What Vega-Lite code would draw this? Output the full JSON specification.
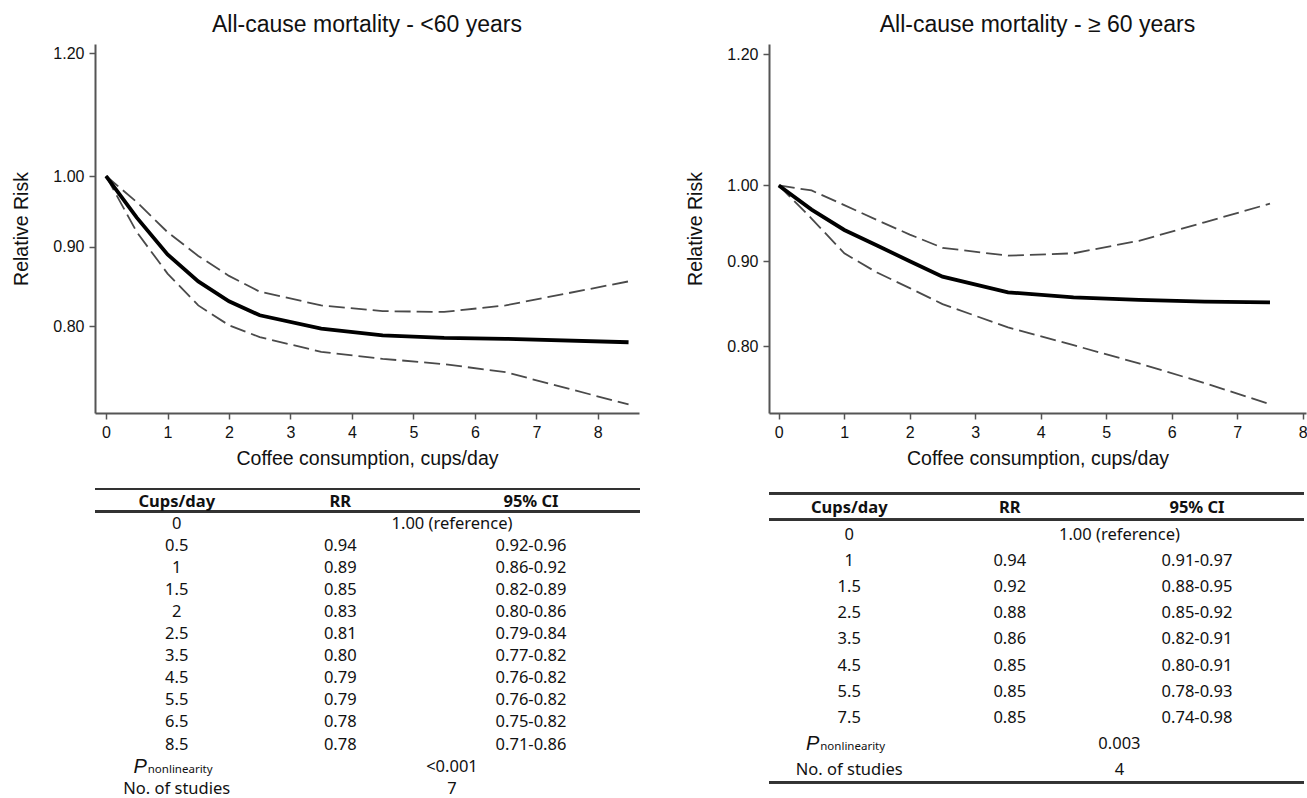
{
  "$schema": "https://vega.github.io/schema/vega-lite/v6.json",
  "background": "white",
  "padding": {"left": 11, "top": 14, "right": 0, "bottom": 0},
  "spacing": 44,
  "config": {
    "view": {"stroke": null},
    "font": "Liberation Sans",
    "axis": {
      "domainColor": "#555", "domainWidth": 2, "tickColor": "#555", "tickWidth": 1.5, "tickSize": 6,
      "labelColor": "#111", "labelFontSize": 16, "labelFont": "Liberation Sans",
      "titleFontSize": 19.5, "titleFontWeight": "normal", "titleColor": "#111", "titleFont": "Liberation Sans",
      "grid": false, "labelPadding": 5
    },
    "title": {"fontSize": 23, "fontWeight": "normal", "color": "#111", "font": "Liberation Sans", "offset": 7, "frame": "group"},
    "text": {"font": "Noto Sans", "fontSize": 16.5, "color": "#111", "baseline": "middle"}
  },
  "datasets": {
    "lt60": [
      {"cups": 0, "rr": 1.0, "lo": 1.0, "hi": 1.0},
      {"cups": 0.5, "rr": 0.94, "lo": 0.92, "hi": 0.962},
      {"cups": 1, "rr": 0.89, "lo": 0.865, "hi": 0.92},
      {"cups": 1.5, "rr": 0.855, "lo": 0.825, "hi": 0.888},
      {"cups": 2, "rr": 0.83, "lo": 0.801, "hi": 0.862},
      {"cups": 2.5, "rr": 0.813, "lo": 0.787, "hi": 0.842},
      {"cups": 3.5, "rr": 0.797, "lo": 0.77, "hi": 0.825},
      {"cups": 4.5, "rr": 0.789, "lo": 0.762, "hi": 0.818},
      {"cups": 5.5, "rr": 0.786, "lo": 0.756, "hi": 0.817},
      {"cups": 6.5, "rr": 0.785, "lo": 0.747, "hi": 0.825},
      {"cups": 8.5, "rr": 0.781, "lo": 0.712, "hi": 0.855}
    ],
    "ge60": [
      {"cups": 0, "rr": 1.0, "lo": 1.0, "hi": 1.0},
      {"cups": 0.5, "rr": 0.967, "lo": 0.955, "hi": 0.993},
      {"cups": 1, "rr": 0.94, "lo": 0.91, "hi": 0.973},
      {"cups": 1.5, "rr": 0.92, "lo": 0.886, "hi": 0.953},
      {"cups": 2, "rr": 0.9, "lo": 0.867, "hi": 0.934},
      {"cups": 2.5, "rr": 0.881, "lo": 0.848, "hi": 0.917},
      {"cups": 3.5, "rr": 0.862, "lo": 0.821, "hi": 0.907},
      {"cups": 4.5, "rr": 0.856, "lo": 0.801, "hi": 0.91},
      {"cups": 5.5, "rr": 0.853, "lo": 0.781, "hi": 0.926},
      {"cups": 6.5, "rr": 0.851, "lo": 0.76, "hi": 0.95},
      {"cups": 7.5, "rr": 0.85, "lo": 0.738, "hi": 0.975}
    ],
    "tabL": [
      {"row": 0, "cups": "Cups/day", "rr": "RR", "ci": "95% CI"},
      {"row": 1, "cups": "0", "note": "1.00 (reference)"},
      {"row": 2, "cups": "0.5", "rr": "0.94", "ci": "0.92-0.96"},
      {"row": 3, "cups": "1", "rr": "0.89", "ci": "0.86-0.92"},
      {"row": 4, "cups": "1.5", "rr": "0.85", "ci": "0.82-0.89"},
      {"row": 5, "cups": "2", "rr": "0.83", "ci": "0.80-0.86"},
      {"row": 6, "cups": "2.5", "rr": "0.81", "ci": "0.79-0.84"},
      {"row": 7, "cups": "3.5", "rr": "0.80", "ci": "0.77-0.82"},
      {"row": 8, "cups": "4.5", "rr": "0.79", "ci": "0.76-0.82"},
      {"row": 9, "cups": "5.5", "rr": "0.79", "ci": "0.76-0.82"},
      {"row": 10, "cups": "6.5", "rr": "0.78", "ci": "0.75-0.82"},
      {"row": 11, "cups": "8.5", "rr": "0.78", "ci": "0.71-0.86"},
      {"row": 12, "cups": "P", "sub": "nonlinearity", "note": "<0.001"},
      {"row": 13, "cups": "No. of studies", "note": "7"}
    ],
    "tabR": [
      {"row": 0, "cups": "Cups/day", "rr": "RR", "ci": "95% CI"},
      {"row": 1, "cups": "0", "note": "1.00 (reference)"},
      {"row": 2, "cups": "1", "rr": "0.94", "ci": "0.91-0.97"},
      {"row": 3, "cups": "1.5", "rr": "0.92", "ci": "0.88-0.95"},
      {"row": 4, "cups": "2.5", "rr": "0.88", "ci": "0.85-0.92"},
      {"row": 5, "cups": "3.5", "rr": "0.86", "ci": "0.82-0.91"},
      {"row": 6, "cups": "4.5", "rr": "0.85", "ci": "0.80-0.91"},
      {"row": 7, "cups": "5.5", "rr": "0.85", "ci": "0.78-0.93"},
      {"row": 8, "cups": "7.5", "rr": "0.85", "ci": "0.74-0.98"},
      {"row": 9, "cups": "P", "sub": "nonlinearity", "note": "0.003"},
      {"row": 10, "cups": "No. of studies", "note": "4"}
    ]
  },
  "hconcat": [
    {
      "spacing": 11,
      "vconcat": [
        {
          "title": "All-cause mortality - <60 years",
          "width": 544, "height": 369,
          "data": {"name": "lt60"},
          "encoding": {
            "x": {"field": "cups", "type": "quantitative",
                  "scale": {"domain": [-0.18, 8.67], "nice": false, "zero": false},
                  "axis": {"values": [0, 1, 2, 3, 4, 5, 6, 7, 8], "format": "d", "title": "Coffee consumption, cups/day", "titlePadding": 9}}
          },
          "layer": [
            {"mark": {"type": "line", "stroke": "#4a4a4a", "strokeWidth": 1.8, "strokeDash": [16, 6]},
             "encoding": {"y": {"field": "hi", "type": "quantitative", "scale": {"type": "log", "domain": [0.703, 1.217], "nice": false, "zero": false},
               "axis": {"values": [0.8, 0.9, 1.0, 1.2], "format": ".2f", "title": "Relative Risk", "titlePadding": 21}}}},
            {"mark": {"type": "line", "stroke": "#4a4a4a", "strokeWidth": 1.8, "strokeDash": [16, 6]},
             "encoding": {"y": {"field": "lo", "type": "quantitative", "title": "Relative Risk"}}},
            {"mark": {"type": "line", "stroke": "#000", "strokeWidth": 3.8},
             "encoding": {"y": {"field": "rr", "type": "quantitative", "title": "Relative Risk"}}}
          ]
        },
        {
          "width": 545, "height": 318,
          "data": {"name": "tabL"},
          "encoding": {
            "y": {"field": "row", "type": "quantitative", "scale": {"domain": [-1.043, 13.379], "reverse": true, "nice": false, "zero": false}, "axis": null}
          },
          "layer": [
            {"mark": {"type": "rule", "strokeWidth": 1.8, "color": "#333"},
             "encoding": {"y": {"datum": -0.58}, "x": {"datum": 0, "type": "quantitative", "scale": {"domain": [0, 10], "nice": false}, "axis": null}, "x2": {"datum": 10}}},
            {"mark": {"type": "rule", "strokeWidth": 1.8, "color": "#333"},
             "encoding": {"y": {"datum": 0.42}, "x": {"datum": 0}, "x2": {"datum": 10}}},
            {"transform": [{"filter": "datum.row == 0"}], "mark": {"type": "text", "fontWeight": "bold"},
             "encoding": {"x": {"datum": 1.5}, "text": {"field": "cups"}}},
            {"transform": [{"filter": "datum.row == 0"}], "mark": {"type": "text", "fontWeight": "bold"},
             "encoding": {"x": {"datum": 4.5}, "text": {"field": "rr"}}},
            {"transform": [{"filter": "datum.row == 0"}], "mark": {"type": "text", "fontWeight": "bold"},
             "encoding": {"x": {"datum": 8.0}, "text": {"field": "ci"}}},
            {"transform": [{"filter": "datum.row > 0 && !isValid(datum.sub)"}], "mark": {"type": "text"},
             "encoding": {"x": {"datum": 1.5}, "text": {"field": "cups"}}},
            {"transform": [{"filter": "datum.row > 0 && isValid(datum.rr)"}], "mark": {"type": "text"},
             "encoding": {"x": {"datum": 4.5}, "text": {"field": "rr"}}},
            {"transform": [{"filter": "datum.row > 0 && isValid(datum.ci)"}], "mark": {"type": "text"},
             "encoding": {"x": {"datum": 8.0}, "text": {"field": "ci"}}},
            {"transform": [{"filter": "isValid(datum.note)"}], "mark": {"type": "text"},
             "encoding": {"x": {"datum": 6.55}, "text": {"field": "note"}}},
            {"transform": [{"filter": "isValid(datum.sub)"}], "mark": {"type": "text", "fontStyle": "italic", "fontSize": 20, "align": "right", "dx": -30, "font": "Liberation Sans"},
             "encoding": {"x": {"datum": 1.5}, "text": {"field": "cups"}}},
            {"transform": [{"filter": "isValid(datum.sub)"}], "mark": {"type": "text", "fontSize": 11.5, "align": "left", "dx": -29, "dy": 3},
             "encoding": {"x": {"datum": 1.5}, "text": {"field": "sub"}}}
          ]
        }
      ]
    },
    {
      "spacing": 11,
      "vconcat": [
        {
          "title": "All-cause mortality - ≥ 60 years",
          "width": 537, "height": 369,
          "data": {"name": "ge60"},
          "encoding": {
            "x": {"field": "cups", "type": "quantitative",
                  "scale": {"domain": [-0.15, 8.05], "nice": false, "zero": false},
                  "axis": {"values": [0, 1, 2, 3, 4, 5, 6, 7, 8], "format": "d", "title": "Coffee consumption, cups/day", "titlePadding": 9}}
          },
          "layer": [
            {"mark": {"type": "line", "stroke": "#4a4a4a", "strokeWidth": 1.8, "strokeDash": [16, 6]},
             "encoding": {"y": {"field": "hi", "type": "quantitative", "scale": {"type": "log", "domain": [0.729, 1.217], "nice": false, "zero": false},
               "axis": {"values": [0.8, 0.9, 1.0, 1.2], "format": ".2f", "title": "Relative Risk", "titlePadding": 21}}}},
            {"mark": {"type": "line", "stroke": "#4a4a4a", "strokeWidth": 1.8, "strokeDash": [16, 6]},
             "encoding": {"y": {"field": "lo", "type": "quantitative", "title": "Relative Risk"}}},
            {"mark": {"type": "line", "stroke": "#000", "strokeWidth": 3.8},
             "encoding": {"y": {"field": "rr", "type": "quantitative", "title": "Relative Risk"}}}
          ]
        },
        {
          "width": 535, "height": 318,
          "data": {"name": "tabR"},
          "encoding": {
            "y": {"field": "row", "type": "quantitative", "scale": {"domain": [-1.126, 11.014], "reverse": true, "nice": false, "zero": false}, "axis": null}
          },
          "layer": [
            {"mark": {"type": "rule", "strokeWidth": 1.8, "color": "#333"},
             "encoding": {"y": {"datum": -0.58}, "x": {"datum": 0, "type": "quantitative", "scale": {"domain": [0, 10], "nice": false}, "axis": null}, "x2": {"datum": 10}}},
            {"mark": {"type": "rule", "strokeWidth": 1.8, "color": "#333"},
             "encoding": {"y": {"datum": 0.43}, "x": {"datum": 0}, "x2": {"datum": 10}}},
            {"mark": {"type": "rule", "strokeWidth": 1.8, "color": "#333"},
             "encoding": {"y": {"datum": 10.45}, "x": {"datum": 0}, "x2": {"datum": 10}}},
            {"transform": [{"filter": "datum.row == 0"}], "mark": {"type": "text", "fontWeight": "bold"},
             "encoding": {"x": {"datum": 1.5}, "text": {"field": "cups"}}},
            {"transform": [{"filter": "datum.row == 0"}], "mark": {"type": "text", "fontWeight": "bold"},
             "encoding": {"x": {"datum": 4.5}, "text": {"field": "rr"}}},
            {"transform": [{"filter": "datum.row == 0"}], "mark": {"type": "text", "fontWeight": "bold"},
             "encoding": {"x": {"datum": 8.0}, "text": {"field": "ci"}}},
            {"transform": [{"filter": "datum.row > 0 && !isValid(datum.sub)"}], "mark": {"type": "text"},
             "encoding": {"x": {"datum": 1.5}, "text": {"field": "cups"}}},
            {"transform": [{"filter": "datum.row > 0 && isValid(datum.rr)"}], "mark": {"type": "text"},
             "encoding": {"x": {"datum": 4.5}, "text": {"field": "rr"}}},
            {"transform": [{"filter": "datum.row > 0 && isValid(datum.ci)"}], "mark": {"type": "text"},
             "encoding": {"x": {"datum": 8.0}, "text": {"field": "ci"}}},
            {"transform": [{"filter": "isValid(datum.note)"}], "mark": {"type": "text"},
             "encoding": {"x": {"datum": 6.55}, "text": {"field": "note"}}},
            {"transform": [{"filter": "isValid(datum.sub)"}], "mark": {"type": "text", "fontStyle": "italic", "fontSize": 20, "align": "right", "dx": -30, "font": "Liberation Sans"},
             "encoding": {"x": {"datum": 1.5}, "text": {"field": "cups"}}},
            {"transform": [{"filter": "isValid(datum.sub)"}], "mark": {"type": "text", "fontSize": 11.5, "align": "left", "dx": -29, "dy": 3},
             "encoding": {"x": {"datum": 1.5}, "text": {"field": "sub"}}}
          ]
        }
      ]
    }
  ]
}
